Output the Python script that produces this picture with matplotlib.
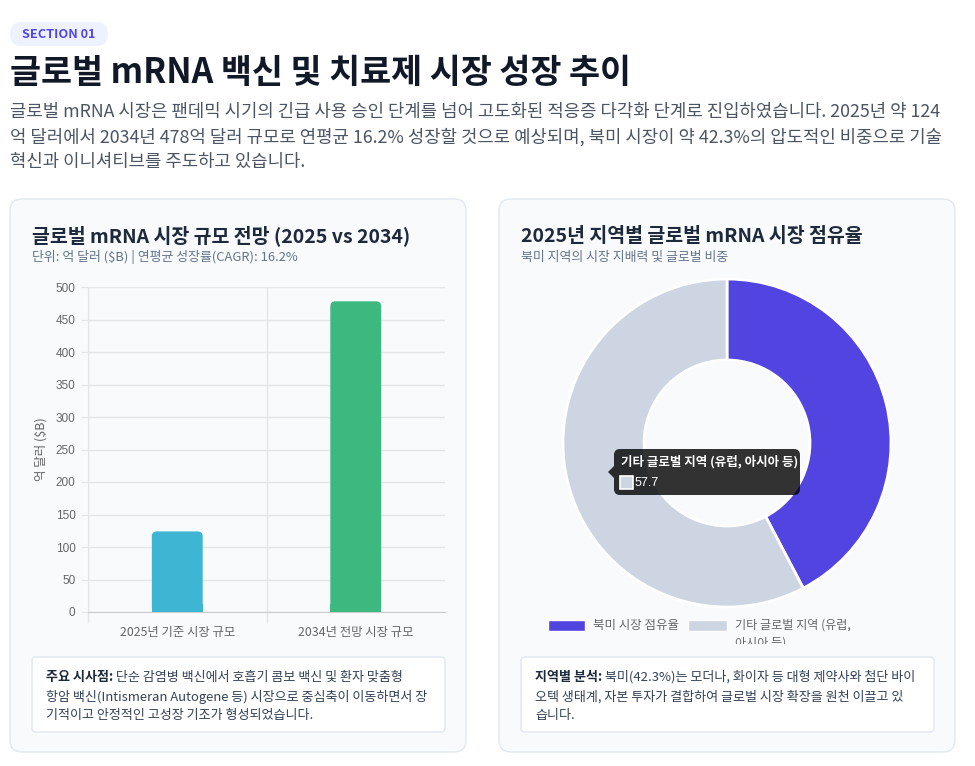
import numpy as np
import matplotlib
matplotlib.use("Agg")
import matplotlib.pyplot as plt
from matplotlib.patches import FancyBboxPatch, Rectangle, Polygon

plt.rcParams['font.family'] = ['Noto Sans CJK KR', 'DejaVu Sans']

# 데이터
bar_labels = ["2025년 기준 시장 규모", "2034년 전망 시장 규모"]
bar_values = [124, 478]
bar_colors = ["#3fb5d4", "#3db97f"]

share_labels = ["북미 시장 점유율", "기타 글로벌 지역 (유럽, 아시아 등)"]
share_values = [42.3, 57.7]
share_colors = ["#5244e1", "#cdd5e2"]

W, H = 975, 766
fig = plt.figure(figsize=(W / 100, H / 100), dpi=100)
fig.patch.set_facecolor("white")
rend = fig.canvas.get_renderer()


def canvas_axes():
    a = fig.add_axes([0, 0, 1, 1])
    a.set_xlim(0, W)
    a.set_ylim(H, 0)
    a.axis("off")
    return a


def fpos(x0, y0, x1, y1):
    return [x0 / W, 1 - y1 / H, (x1 - x0) / W, (y1 - y0) / H]


def rbox(a, x0, y0, x1, y1, r, fc, ec, lw=1, z=0, alpha=None):
    p = FancyBboxPatch((x0, y0), x1 - x0, y1 - y0,
                       boxstyle="round,pad=0,rounding_size=%d" % r,
                       fc=fc, ec=ec, lw=lw, zorder=z, alpha=alpha)
    a.add_patch(p)
    return p


def rich_line(a, x, y, parts, size, z=5):
    # parts: [(text, weight, color)]
    for txt, wt, col in parts:
        t = a.text(x, y, txt, fontsize=size, fontweight=wt, color=col,
                   va="center", ha="left", zorder=z)
        x += t.get_window_extent(rend).width


# 배경 캔버스
cv = canvas_axes()

# 헤더
rbox(cv, 10, 22, 108, 46, 12, "#eef2ff", "none")
cv.text(59, 34.5, "SECTION 01", fontsize=9.2, fontweight="bold", color="#4f46e5",
        ha="center", va="center")
cv.text(10, 72, "글로벌 mRNA 백신 및 치료제 시장 성장 추이", fontsize=24.3,
        fontweight="bold", color="#111827", va="center")
para = ["글로벌 mRNA 시장은 팬데믹 시기의 긴급 사용 승인 단계를 넘어 고도화된 적응증 다각화 단계로 진입하였습니다. 2025년 약 124",
        "억 달러에서 2034년 478억 달러 규모로 연평균 16.2% 성장할 것으로 예상되며, 북미 시장이 약 42.3%의 압도적인 비중으로 기술",
        "혁신과 이니셔티브를 주도하고 있습니다."]
for i, line in enumerate(para):
    cv.text(10, 112 + i * 25, line, fontsize=12.8, color="#4b5563", va="center")

# 카드
for x0 in (10, 499):
    rbox(cv, x0, 199, x0 + 456, 752, 12, "#f8fafc", "#e2e8f0")

cv.text(32, 236, "글로벌 mRNA 시장 규모 전망 (2025 vs 2034)", fontsize=14,
        fontweight="bold", color="#1e293b", va="center")
cv.text(32, 257, "단위: 억 달러 ($B) | 연평균 성장률(CAGR): 16.2%", fontsize=9.3,
        color="#64748b", va="center")
cv.text(521, 236, "2025년 지역별 글로벌 mRNA 시장 점유율", fontsize=14,
        fontweight="bold", color="#1e293b", va="center")
cv.text(521, 257, "북미 지역의 시장 지배력 및 글로벌 비중", fontsize=9.3,
        color="#64748b", va="center")

# 하단 설명 박스
rbox(cv, 32, 657, 445, 732, 4, "white", "#e2e8f0", z=2)
rbox(cv, 521, 657, 934, 732, 4, "white", "#e2e8f0", z=2)
note_l = [[("주요 시사점:", "bold", "#1e293b"),
           (" 단순 감염병 백신에서 호흡기 콤보 백신 및 환자 맞춤형", "normal", "#334155")],
          [("항암 백신(Intismeran Autogene 등) 시장으로 중심축이 이동하면서 장", "normal", "#334155")],
          [("기적이고 안정적인 고성장 기조가 형성되었습니다.", "normal", "#334155")]]
note_r = [[("지역별 분석:", "bold", "#1e293b"),
           (" 북미(42.3%)는 모더나, 화이자 등 대형 제약사와 첨단 바이", "normal", "#334155")],
          [("오텍 생태계, 자본 투자가 결합하여 글로벌 시장 확장을 원천 이끌고 있", "normal", "#334155")],
          [("습니다.", "normal", "#334155")]]
for i in range(3):
    rich_line(cv, 46, 677 + i * 19.5, note_l[i], 9.4)
    rich_line(cv, 535, 677 + i * 19.5, note_r[i], 9.4)

# 막대 차트
ax = fig.add_axes(fpos(88, 287, 445, 612))
ax.set_facecolor("none")
x = np.arange(len(bar_values))
bars = ax.bar(x, bar_values, width=0.285, color=bar_colors, zorder=3)
ax.set_xlim(-0.5, 1.5)
ax.set_ylim(0, 500)
ax.set_yticks(np.arange(0, 501, 50))
ax.set_xticks(x)
ax.set_xticklabels(bar_labels, fontsize=8.9, color="#666666")
ax.set_xticks([-0.5, 0.5], minor=True)
ax.tick_params(axis="x", which="major", length=0, pad=10)
ax.tick_params(axis="x", which="minor", length=8, color="#e5e5e5", width=1)
ax.tick_params(axis="y", length=5, color="#e5e5e5", labelsize=8.5,
               labelcolor="#666666", pad=4)
for lab in ax.get_yticklabels():
    lab.set_family(["Liberation Sans", "DejaVu Sans"])
ax.grid(axis="y", color="#e5e5e5", lw=1, zorder=0)
ax.grid(axis="x", which="minor", color="#e5e5e5", lw=1, zorder=0)
for s in ("top", "right"):
    ax.spines[s].set_visible(False)
ax.spines["left"].set_color("#e5e5e5")
ax.spines["bottom"].set_color("#cccccc")
ax.set_ylabel("억 달러 ($B)", fontsize=9, color="#666666", labelpad=6)

# 둥근 모서리 막대
xpp = 2 / 357
ypp = 500 / 325
for b in bars:
    b.set_visible(False)
    bx, bw, bh = b.get_x(), b.get_width(), b.get_height()
    p = FancyBboxPatch((bx, 0), bw, bh, boxstyle="round,pad=0,rounding_size=%f" % (5 * xpp),
                       mutation_aspect=ypp / xpp, fc=b.get_facecolor(), ec="none", zorder=3)
    ax.add_patch(p)
    ax.add_patch(Rectangle((bx, 0), bw, 8 * ypp, fc=b.get_facecolor(), ec="none", zorder=3))

# 도넛 차트
pa = fig.add_axes(fpos(563, 279, 891, 607))
pa.pie(share_values, colors=share_colors, startangle=90, counterclock=False,
       radius=1, wedgeprops=dict(width=0.494, edgecolor="white", linewidth=2))
pa.set_xlim(-1, 1)
pa.set_ylim(-1, 1)
pa.set_aspect("equal")
pa.axis("off")

# 위쪽 레이어: 범례, 툴팁
ov = canvas_axes()
ov.add_patch(Rectangle((548, 620), 37, 11, fc=share_colors[0], ec="white", lw=1))
ov.text(593, 625.5, share_labels[0], fontsize=9, color="#666666", va="center")
ov.add_patch(Rectangle((688, 620), 39, 11, fc=share_colors[1], ec="white", lw=1))
ov.text(735, 625.5, "기타 글로벌 지역 (유럽,", fontsize=8.7, color="#666666", va="center")
t2 = ov.text(735, 643, "아시아 등)", fontsize=8.7, color="#666666", va="center")
t2.set_clip_on(True)
t2.set_clip_path(Rectangle((0, 0), W, 644, transform=ov.transData))

rbox(ov, 614, 449, 800, 495, 6, "#000000", "none", z=8, alpha=0.8)
ov.add_patch(Polygon([[614, 466], [608, 472], [614, 478]], closed=True,
                     fc="#000000", alpha=0.8, ec="none", zorder=8))
ov.text(621, 461.5, share_labels[1], fontsize=9, fontweight="bold", color="white",
        va="center", zorder=9)
ov.add_patch(Rectangle((620, 476), 13, 13, fc=share_colors[1], ec="white", lw=1.2, zorder=9))
ov.text(635, 483, "%.1f" % share_values[1], fontsize=9, color="white", va="center",
        zorder=9, family=["Liberation Sans", "DejaVu Sans"])

fig.savefig("out.png", dpi=100)
